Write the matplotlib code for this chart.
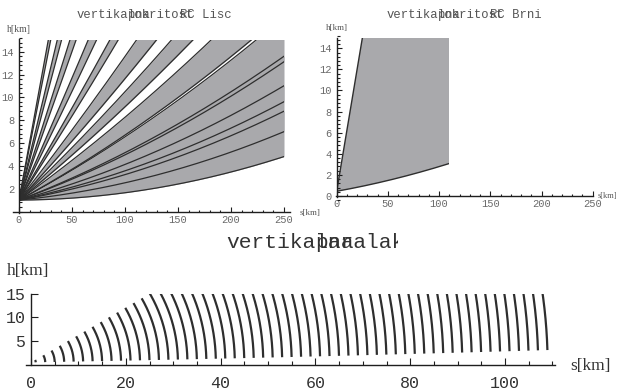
import numpy as np
import matplotlib
matplotlib.use("Agg")
import matplotlib.pyplot as plt
from matplotlib.patches import Rectangle
from matplotlib.ticker import MultipleLocator, FixedLocator
from matplotlib.transforms import Bbox

# ---- data -------------------------------------------------------------
# RC Lisc: elevation of the lower / upper edge of each beam [deg]
lisc_lower = [0.03, 0.53, 1.13, 1.93, 2.92, 4.33, 5.73, 8.2, 10.6, 14.4, 19.1, 25.0]
lisc_upper = [0.94, 1.45, 2.04, 2.83, 3.81, 5.08, 6.83, 9.0, 11.9, 16.1, 21.1, 26.8]
lisc_height = 1.0      # antenna height [km]
lisc_range = 250.0     # max range [km]

# RC Brni: elevation limits of the scanned sector [deg]
brni_lower = 1.0
brni_upper = 30.0
brni_height = 0.45     # antenna height [km]
brni_range = 110.0     # max range [km]

# slant ranges of the drawn range rings for RC Brni [km]
ring_ranges = [1, 3, 5, 7, 9, 11, 13, 15, 17, 19, 21, 23, 25, 27, 29, 31, 33,
               35, 37, 39, 41, 43, 45, 47, 49, 51, 53, 55, 57, 59, 61, 63, 65,
               67, 69, 71, 73, 75, 77, 79, 81, 83, 85, 87, 89, 91, 93, 95, 97,
               99, 101, 103, 105, 107, 109]

ceiling = 15.0         # top of the vertical section [km]

# ---- geometry (4/3 earth radius model) ---------------------------------
KR = 4.0 / 3.0 * 6371.0


def ray_height(s, elev_deg, h0):
    e = np.radians(elev_deg)
    theta = s / KR
    return (KR + h0) * np.cos(e) / np.cos(theta + e) - KR


def ring_points(r, e_lo, e_hi, h0):
    e = np.radians(np.linspace(e_lo, e_hi, 300))
    a = KR + h0
    rho = np.sqrt(a ** 2 + r ** 2 + 2 * a * r * np.sin(e))
    theta = np.arcsin(r * np.cos(e) / rho)
    return KR * theta, rho - KR


# ---- figure ------------------------------------------------------------
W, H = 619, 390
fig = plt.figure(figsize=(W / 100, H / 100), dpi=100)

MONO = "Liberation Mono"
SERIF = "Liberation Serif"
FILL = "#a9a9ac"
EDGE = "#2e2e2e"
AXC = "#1e1e1e"


def place(ax, xlim, ylim, xmap, ymap):
    x0, px0, x1, px1 = xmap
    y0, py0, y1, py1 = ymap
    fx = (px1 - px0) / (x1 - x0)
    fy = (py1 - py0) / (y1 - y0)
    left = px0 + (xlim[0] - x0) * fx
    right = px0 + (xlim[1] - x0) * fx
    bottom = py0 + (ylim[0] - y0) * fy
    top = py0 + (ylim[1] - y0) * fy
    ax.set_xlim(*xlim)
    ax.set_ylim(*ylim)
    ax.set_position([left / W, 1 - bottom / H, (right - left) / W, (bottom - top) / H])


def style(ax, xb, yb, fs, lcolor, majlen, minlen, xpad, ypad):
    for sp in ("top", "right"):
        ax.spines[sp].set_visible(False)
    for sp in ("left", "bottom"):
        ax.spines[sp].set_position(("data", 0))
        ax.spines[sp].set_color(AXC)
        ax.spines[sp].set_linewidth(1.0)
    ax.spines["bottom"].set_bounds(*xb)
    ax.spines["left"].set_bounds(*yb)
    ax.tick_params(which="both", direction="in", color=AXC, width=0.8)
    ax.tick_params(which="major", length=majlen)
    ax.tick_params(which="minor", length=minlen)
    ax.tick_params(axis="x", pad=xpad)
    ax.tick_params(axis="y", pad=ypad)
    for lab in ax.get_xticklabels() + ax.get_yticklabels():
        lab.set_fontfamily(MONO)
        lab.set_fontsize(fs)
        lab.set_color(lcolor)
    ax.patch.set_visible(False)


def px(x, y):
    return x / W, 1 - y / H


# ---- RC Lisc -----------------------------------------------------------
ax1 = fig.add_axes([0, 0, 1, 1])
place(ax1, (-6, 257), (-0.3, 15.4), (0, 19, 250, 284), (0, 211.5, 15, 40.3))
clip1 = Rectangle((0, 0), lisc_range, ceiling, transform=ax1.transData)
s = np.linspace(0, lisc_range, 600)
for lo, hi in zip(lisc_lower, lisc_upper):
    h_lo = ray_height(s, lo, lisc_height)
    h_hi = ray_height(s, hi, lisc_height)
    f = ax1.fill_between(s, h_lo, h_hi, color=FILL, linewidth=0)
    f.set_clip_path(clip1)
    for hh in (h_lo, h_hi):
        ln, = ax1.plot(s, hh, color=EDGE, lw=0.9)
        ln.set_clip_path(clip1)
ax1.xaxis.set_major_locator(FixedLocator([0, 50, 100, 150, 200, 250]))
ax1.xaxis.set_minor_locator(MultipleLocator(10))
ax1.yaxis.set_major_locator(FixedLocator([2, 4, 6, 8, 10, 12, 14]))
ax1.yaxis.set_minor_locator(MultipleLocator(0.4))
style(ax1, (-5.5, 255.5), (-0.15, 15.15), 7.5, "#6a6a6a", 3.5, 1.8, 2.5, 3.5)
fig.text(*px(7, 30), "h[km]", fontfamily=SERIF, fontsize=7, color="#555555",
         va="center", ha="left")
fig.text(*px(300, 213), "s[km]", fontfamily=SERIF, fontsize=6.5, color="#555555",
         va="center", ha="left")

# ---- RC Brni -----------------------------------------------------------
ax2 = fig.add_axes([0, 0, 1, 1])
place(ax2, (-6, 256), (-0.4, 15.4), (0, 336.7, 250, 592.7), (0, 196, 14, 48.3))
clip2 = Rectangle((0, 0), brni_range, ceiling, transform=ax2.transData)
s2 = np.linspace(0, brni_range, 400)
b_lo = ray_height(s2, brni_lower, brni_height)
b_hi = ray_height(s2, brni_upper, brni_height)
f = ax2.fill_between(s2, b_lo, b_hi, color=FILL, linewidth=0)
f.set_clip_path(clip2)
for hh in (b_lo, b_hi):
    ln, = ax2.plot(s2, hh, color=EDGE, lw=1.0)
    ln.set_clip_path(clip2)
ax2.xaxis.set_major_locator(FixedLocator([0, 50, 100, 150, 200, 250]))
ax2.xaxis.set_minor_locator(MultipleLocator(10))
ax2.yaxis.set_major_locator(FixedLocator([0, 2, 4, 6, 8, 10, 12, 14]))
ax2.yaxis.set_minor_locator(MultipleLocator(0.4))
style(ax2, (-0.5, 250), (-0.1, 15.0), 7.5, "#6a6a6a", 3.5, 1.8, 2.5, 3.5)
fig.text(*px(326, 28), "h[km]", fontfamily=SERIF, fontsize=6.5, color="#555555",
         va="center", ha="left")
fig.text(*px(598, 196), "s[km]", fontfamily=SERIF, fontsize=6, color="#555555",
         va="center", ha="left")

# ---- Brni range rings ------------------------------------------------------
ax3 = fig.add_axes([0, 0, 1, 1])
place(ax3, (-2, 112), (-0.5, 15.5), (0, 31, 100, 505), (0, 364.5, 15, 293.5))
clip3 = Rectangle((-1, 0), brni_range + 2, ceiling, transform=ax3.transData)
for r in ring_ranges:
    rs, rh = ring_points(r, brni_lower, brni_upper, brni_height)
    ln, = ax3.plot(rs, rh, color=EDGE, lw=1.6, solid_capstyle="butt")
    ln.set_clip_path(clip3)
ax3.xaxis.set_major_locator(FixedLocator([0, 20, 40, 60, 80, 100]))
ax3.xaxis.set_minor_locator(MultipleLocator(5))
ax3.yaxis.set_major_locator(FixedLocator([5, 10, 15]))
style(ax3, (-1, 110.5), (0, 15), 12, "#333333", 5, 3, 8, 4)
fig.text(*px(7, 271), "h[km]", fontfamily=SERIF, fontsize=12.5, color="#333333",
         va="center", ha="left")
fig.text(*px(570, 366), "s[km]", fontfamily=SERIF, fontsize=12.5, color="#333333",
         va="center", ha="left")


# ---- titles (overlapping monospace pieces) --------------------------------
def title(x, y, pieces, fs, color, clip_chars=None):
    cw = 0.6 * fs * 100 / 72  # monospace advance in pixels
    box = None
    if clip_chars is not None:
        box = Bbox([[0, 0], [x + clip_chars * cw, H]])
    for offset, txt in pieces:
        t = fig.text(*px(x + offset * cw, y), txt, fontfamily=MONO,
                     fontsize=fs, color=color, va="center", ha="left")
        if box is not None:
            t.set_clip_box(box)
            t.set_clip_on(True)


title(77, 15, [(0, "vertikalna"), (7, "pokritost"), (14, "RC Lisc")], 8.8, "#555555")
title(387, 15, [(0, "vertikalna"), (7, "pokritost"), (14, "RC Brni")], 8.8, "#555555")
title(226, 243, [(0, "vertikalna"), (7, "paralaksa")], 15.3, "#333333", clip_chars=13.5)

fig.savefig("out.png", dpi=100)
